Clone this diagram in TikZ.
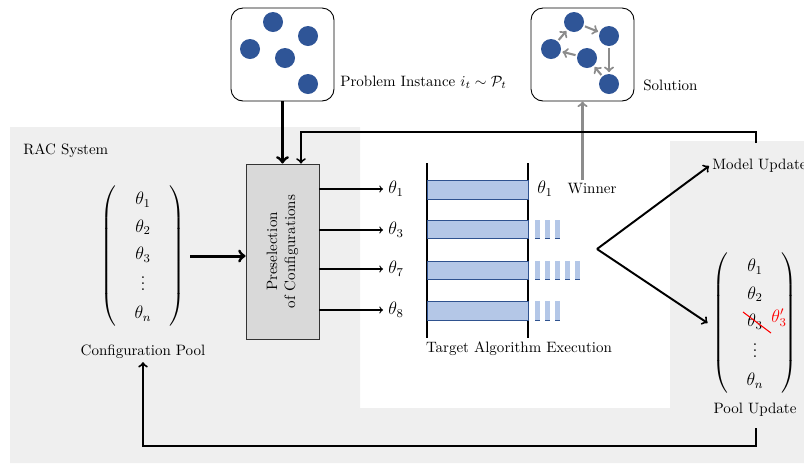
\documentclass[tikz,border=0pt]{standalone}
\usepackage{amsmath}
\usetikzlibrary{calc}
\definecolor{bgrey}{HTML}{EFEFEF}
\definecolor{dotblue}{HTML}{2F5597}
\definecolor{barfill}{HTML}{B4C7E7}
\definecolor{barline}{HTML}{2F528F}
\definecolor{boxgrey}{HTML}{D9D9D9}
\definecolor{arrgrey}{HTML}{8C8C8C}
\newdimen\pxu \pxu=0.666pt
\newcommand{\thetacol}[1]{$\renewcommand{\arraystretch}{1.32}\left(\begin{array}{@{\hspace{12pt}}c@{\hspace{12pt}}}#1\end{array}\right)$}
\begin{document}
\begin{tikzpicture}[x=0.666pt,y=-0.666pt,
  inst/.style={draw, rounded corners=8pt, minimum width=103\pxu, minimum height=93\pxu, inner sep=0, line width=0.6pt},
  dot/.style={circle, fill=dotblue, minimum size=20\pxu, inner sep=0},
  flow/.style={->, line width=1.3pt},
  bigflow/.style={->, line width=2pt},
  smallflow/.style={->, line width=0.75pt},
  garrow/.style={->, draw=arrgrey, line width=1.4pt},
  bar/.style={fill=barfill, draw=barline, line width=0.5pt},
  dsh/.style={fill=barfill},
  th/.style={font=\large},
  lbl/.style={inner sep=2pt}]
\useasboundingbox (0,0) rectangle (804,463);
% background
\fill[bgrey] (10,127) -- (360,127) -- (360,408) -- (670,408) -- (670,141) -- (804,141) -- (804,463) -- (10,463) -- cycle;

% problem instance
\node[inst] (prob) at (282.5,54.5) {};
\node[dot] (p1) at (273,22) {};
\node[dot] (p2) at (308,36) {};
\node[dot] (p3) at (250,49) {};
\node[dot] (p4) at (285,58) {};
\node[dot] (p5) at (308,84) {};
\node[lbl, anchor=west] (problbl) at (337,82) {Problem Instance $i_t \sim \mathcal{P}_t$};

% solution
\node[inst] (sol) at (582.5,54.5) {};
\node[dot] (s1) at (574,22) {};
\node[dot] (s2) at (609,36) {};
\node[dot] (s3) at (551,49) {};
\node[dot] (s4) at (587,58) {};
\node[dot] (s5) at (609,84) {};
\draw[garrow, shorten >=1pt, shorten <=1pt] (s1) -- (s2);
\draw[garrow, shorten >=1pt, shorten <=1pt] (s2) -- (s5);
\draw[garrow, shorten >=1pt, shorten <=1pt] (s5) -- (s4);
\draw[garrow, shorten >=1pt, shorten <=1pt] (s4) -- (s3);
\draw[garrow, shorten >=1pt, shorten <=1pt] (s3) -- (s1);
\node[lbl, anchor=west] (sollbl) at (640,85) {Solution};

% RAC system
\node[lbl, anchor=west] (rac) at (20,151) {RAC System};

% configuration pool
\node[th] (pool) at (143,256) {\thetacol{\theta_1\\ \theta_2\\ \theta_3\\ \vdots\\ \theta_n}};
\node[lbl] (poollbl) at (143,352) {Configuration Pool};

% preselection
\node[draw=black!80, fill=boxgrey, line width=0.6pt, minimum width=73\pxu, minimum height=175\pxu, inner sep=0] (pre) at (282.5,251.5) {};
\node[rotate=90, align=center] (pretext) at (pre.center) {Preselection\\of Configurations};

\draw[bigflow] (prob.south) -- (pre.north);
\draw[bigflow] (pool.east) -- (pool.east -| pre.west);

% theta outputs
\node[th] (t1) at (396,189) {$\theta_1$};
\node[th] (t3) at (396,230) {$\theta_3$};
\node[th] (t7) at (396,269) {$\theta_7$};
\node[th] (t8) at (396,310) {$\theta_8$};
\foreach \t in {t1,t3,t7,t8} \draw[smallflow] (pre.east |- \t) -- (\t.west);

% target algorithm execution
\coordinate (va) at (427,163);
\coordinate (vb) at (528,163);
\draw[line width=1pt] (va) -- ++(0,175);
\draw[line width=1pt] (vb) -- ++(0,175);
\draw[bar] (427,180) rectangle (528,199);
\draw[bar] (427,220) rectangle (528,238);
\draw[bar] (427,261) rectangle (528,279);
\draw[bar] (427,301) rectangle (528,320);
\foreach \x in {535,545,555} {
  \fill[dsh] (\x,220) rectangle ++(5,18);
  \draw[barline, line width=0.5pt] (\x,238) -- ++(5,0);
  \fill[dsh] (\x,301) rectangle ++(5,19);
  \draw[barline, line width=0.5pt] (\x,320) -- ++(5,0);
}
\foreach \x in {535,545,555,565,575} {
  \fill[dsh] (\x,261) rectangle ++(5,18);
  \draw[barline, line width=0.5pt] (\x,279) -- ++(5,0);
}
\node[lbl] (tae) at (519,349) {Target Algorithm Execution};
\node[th] (w1) at (545,189) {$\theta_1$};
\node[lbl] (winner) at (592,189) {Winner};
\draw[garrow] (sol.south |- winner.north) -- (sol.south);

% updates
\coordinate (br) at (597,249);
\node[lbl, anchor=west] (modelup) at (709,166) {Model Update};
\node[th] (pool2) at (755,323) {\thetacol{\theta_1\\ \theta_2\\ \theta_3\\ \vdots\\ \theta_n}};
\draw[red, line width=0.7pt] ($(pool2.center)+(-12,-11)$) -- ($(pool2.center)+(16,10)$);
\node[red, th, inner sep=0] (t3p) at ($(pool2.center)+(24,-5)$) {$\theta_3'$};
\node[lbl] (poolup) at (755,410) {Pool Update};
\draw[flow] (br) -- (modelup.west);
\draw[flow] (br) -- (pool2.west);

% feedback loops
\coordinate (mu) at (756,143);
\coordinate (fbtop) at (301,132);
\draw[flow] (mu) |- (fbtop) -- (fbtop |- pre.north);
\coordinate (pu) at (756,428);
\coordinate (fbbot) at (143,446);
\draw[flow] (pu) |- (fbbot) -- (poollbl.south);
\end{tikzpicture}
\end{document}
